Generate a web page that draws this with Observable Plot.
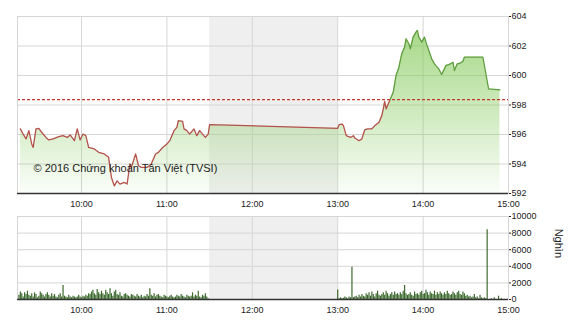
<!DOCTYPE html>
<html>
<head>
<meta charset="utf-8">
<script src="https://cdn.jsdelivr.net/npm/d3@7"></script>
<script src="https://cdn.jsdelivr.net/npm/@observablehq/plot@0.6"></script>
<style>
  html, body { margin: 0; padding: 0; background: #fff; }
  svg { display: block; }
  #chart { width: 570px; height: 320px; }
</style>
</head>
<body>
<div id="chart"></div>
<script>
// ---------- data ----------
const xDomainTimes = ["9:15", "15:00"];
const xTickTimes = ["10:00", "11:00", "12:00", "13:00", "14:00", "15:00"];
const breakTimes = ["11:30", "13:00"];
const priceTicks = [592, 594, 596, 598, 600, 602, 604];
const volumeTicks = [0, 2000, 4000, 6000, 8000, 10000];
const referencePrice = 598.37;
const copyrightText = "© 2016 Chứng khoán Tân Việt (TVSI)";
const volumeUnit = "Nghìn";

const priceTimes = [
  "9:17","9:19","9:21","9:23","9:25","9:26","9:28","9:30","9:32","9:35",
  "9:37","9:40","9:44","9:47","9:50","9:52","9:55","9:57","9:59","10:01",
  "10:03","10:05","10:09","10:12","10:16","10:19","10:21","10:23","10:25","10:27",
  "10:30","10:32","10:34","10:35","10:38","10:40","10:42","10:46","10:49","10:52",
  "10:54","10:57","11:00","11:02","11:05","11:07","11:08","11:11","11:12","11:14",
  "11:16","11:19","11:21","11:23","11:25","11:27","11:29","11:30",
  "13:00","13:01","13:03","13:04","13:06","13:09","13:11","13:12","13:15","13:17",
  "13:18","13:19","13:21","13:24","13:26","13:29","13:31","13:32","13:33","13:34",
  "13:35","13:37","13:39","13:40","13:41","13:43","13:45","13:47","13:48","13:50",
  "13:51","13:53","13:55","13:56","13:57","13:59","14:01","14:02","14:04","14:06",
  "14:08","14:09","14:11","14:13","14:15","14:16","14:18","14:20","14:21","14:22",
  "14:24","14:26","14:28","14:29","14:32","14:42","14:46","14:54"
];
const priceValues = [
  596.38,596.03,595.70,596.26,595.36,595.12,596.38,596.42,596.15,595.80,
  595.63,595.70,595.85,595.92,595.80,595.97,595.58,596.38,595.63,596.03,
  595.92,595.12,595.02,594.79,594.68,594.45,593.09,592.52,592.86,592.64,
  592.75,592.64,594.00,593.77,594.68,593.88,593.77,593.77,594.00,594.68,
  594.79,595.12,595.36,595.58,596.26,596.48,596.94,596.89,596.38,596.26,
  596.03,596.38,595.92,596.26,596.03,595.80,596.03,596.67,
  596.42,596.67,596.71,596.60,595.92,595.80,595.92,595.76,595.58,595.70,
  596.03,596.31,596.38,596.38,596.60,596.83,597.28,597.73,598.25,597.73,
  597.96,598.41,598.86,599.43,600.00,600.56,601.47,601.92,602.49,602.15,
  601.81,602.60,602.94,603.05,602.60,602.26,602.60,602.26,601.69,601.13,
  600.79,600.67,600.45,600.07,600.45,600.67,600.74,600.83,600.90,600.34,
  600.79,600.83,600.97,601.24,601.24,601.24,599.09,599.02
];

// volume per minute (thousand shares)
const volMorningStart = "9:16";
const volMorning = [
  500,900,700,300,800,600,1000,500,400,700,
  300,800,600,200,400,900,700,500,300,600,
  800,500,300,700,400,600,300,200,500,700,
  300,1700,400,300,200,500,300,200,400,300,
  200,300,500,300,200,400,300,500,400,700,
  600,900,1100,700,500,1200,800,600,1000,700,
  500,1100,800,600,1300,700,400,900,1100,600,
  500,800,400,300,600,700,500,400,300,600,
  500,400,300,600,400,300,500,200,400,300,
  600,400,1300,500,400,700,300,500,600,400,
  300,200,500,400,300,200,400,500,300,200,
  300,500,400,300,600,400,300,200,500,400,
  300,400,800,300,500,400,1000,300,200,500,
  400,700,300,100
];
const volAfternoonStart = "13:00";
const volAfternoon = [
  1150,100,200,100,150,300,200,100,300,200,
  3900,200,300,400,200,500,300,600,400,300,
  700,500,800,400,900,600,300,700,1000,500,
  400,600,800,500,1000,700,400,600,800,500,
  900,600,700,500,800,600,1000,1700,700,500,
  600,800,500,400,900,600,700,500,800,1000,
  600,700,1100,800,500,900,700,600,1000,500,
  800,600,900,700,500,800,600,1000,700,500,
  600,900,700,500,800,1000,600,500,900,700,
  400,500,300,400,200,300,600,200,300,100,
  500,200,100,200,100,8400,0,0,100,0,
  200,0,0,400,0,100,0,0,0
];

// ---------- helpers ----------
const toMin = s => { const [h, m] = s.split(":").map(Number); return h * 60 + m; };
const fmt = m => `${Math.floor(m / 60)}:${String(m % 60).padStart(2, "0")}`;

const priceData = priceTimes.map((t, i) => ({t: toMin(t), p: priceValues[i]}));
const volData = [
  ...volMorning.map((v, i) => ({t: toMin(volMorningStart) + i, v})),
  ...volAfternoon.map((v, i) => ({t: toMin(volAfternoonStart) + i, v}))
];
const xDomain = xDomainTimes.map(toMin);
const xTicks = xTickTimes.map(toMin);
const breakSpan = [{x1: toMin(breakTimes[0]), x2: toMin(breakTimes[1])}];

const FONT = "'Liberation Sans', Arial, sans-serif";
const GRID = "#d6d6d6";
const SHADE = "#efefef";
const AXIS_DARK = "#333";

// ---------- price chart ----------
const priceChart = Plot.plot({
  width: 570, height: 210,
  marginLeft: 17, marginRight: 62, marginTop: 16, marginBottom: 17,
  style: {fontFamily: FONT, fontSize: "9px", color: "#222", background: "transparent"},
  x: {domain: xDomain, ticks: xTicks, tickFormat: fmt, tickSize: 0, tickPadding: 7, label: null},
  y: {domain: [priceTicks[0], priceTicks[priceTicks.length - 1]], ticks: priceTicks, axis: "right",
      tickSize: 2, tickPadding: 1, label: null},
  marks: [
    Plot.rect(breakSpan, {x1: "x1", x2: "x2", fill: SHADE}),
    Plot.ruleY(priceTicks, {stroke: GRID}),
    Plot.ruleX(xTicks, {stroke: GRID}),
    Plot.areaY(priceData, {x: "t", y1: priceTicks[0], y2: "p", fill: "#8ccd64"}),
    Plot.line(priceData, {x: "t", y: "p", stroke: "#b5514c", strokeWidth: 1.3}),
    Plot.ruleY([referencePrice], {stroke: "#c0392b", strokeWidth: 1.3, strokeDasharray: "3,2"}),
    Plot.frame({stroke: GRID}),
    Plot.ruleY([priceTicks[0]], {stroke: AXIS_DARK, strokeWidth: 1.6}),
    Plot.text([copyrightText], {frameAnchor: "bottom-left", dx: 16, dy: -22, textAnchor: "start",
      fontSize: 11, fill: "#222", fontFamily: FONT})
  ]
});

// gradients for the price chart (positions from the scale)
{
  const ys = priceChart.scale("y");
  const yTopPx = ys.apply(priceTicks[priceTicks.length - 1]);
  const yBotPx = ys.apply(priceTicks[0]);
  const yRefPx = ys.apply(referencePrice);
  const f = (yRefPx - yTopPx) / (yBotPx - yTopPx);
  const svg = d3.select(priceChart.tagName === "svg" ? priceChart : priceChart.querySelector("svg"));
  const defs = svg.insert("defs", ":first-child");
  const ag = defs.append("linearGradient").attr("id", "areaGrad")
    .attr("gradientUnits", "userSpaceOnUse").attr("x1", 0).attr("x2", 0)
    .attr("y1", yTopPx).attr("y2", yBotPx);
  ag.append("stop").attr("offset", 0).attr("stop-color", "#8ccd64").attr("stop-opacity", 0.82);
  ag.append("stop").attr("offset", 0.5).attr("stop-color", "#8ccd64").attr("stop-opacity", 0.45);
  ag.append("stop").attr("offset", 1).attr("stop-color", "#8ccd64").attr("stop-opacity", 0.04);
  const lg = defs.append("linearGradient").attr("id", "lineGrad")
    .attr("gradientUnits", "userSpaceOnUse").attr("x1", 0).attr("x2", 0)
    .attr("y1", yTopPx).attr("y2", yBotPx);
  lg.append("stop").attr("offset", 0).attr("stop-color", "#5f9e3f");
  lg.append("stop").attr("offset", f).attr("stop-color", "#5f9e3f");
  lg.append("stop").attr("offset", f).attr("stop-color", "#b5514c");
  lg.append("stop").attr("offset", 1).attr("stop-color", "#b5514c");
  svg.selectAll('g[aria-label="area"] path').attr("fill", "url(#areaGrad)");
  svg.selectAll('g[aria-label="area"]').attr("fill", "url(#areaGrad)");
  svg.selectAll('g[aria-label="line"] path').attr("stroke", "url(#lineGrad)");
  svg.selectAll('g[aria-label="line"]').attr("stroke", "url(#lineGrad)");
}

// ---------- volume chart ----------
const volumeChart = Plot.plot({
  width: 570, height: 110,
  marginLeft: 17, marginRight: 62, marginTop: 6, marginBottom: 21,
  style: {fontFamily: FONT, fontSize: "9px", color: "#222", background: "transparent"},
  x: {domain: xDomain, ticks: xTicks, tickFormat: fmt, tickSize: 0, tickPadding: 7, label: null},
  y: {domain: [volumeTicks[0], volumeTicks[volumeTicks.length - 1]], ticks: volumeTicks, axis: "right",
      tickSize: 2, tickPadding: 1, tickFormat: d => String(d), label: null},
  marks: [
    Plot.rect(breakSpan, {x1: "x1", x2: "x2", fill: SHADE}),
    Plot.ruleY(volumeTicks, {stroke: GRID}),
    Plot.ruleX(xTicks, {stroke: GRID}),
    Plot.frame({stroke: GRID}),
    Plot.ruleX(volData, {x: "t", y1: 0, y2: "v", stroke: "#3c6a2e", strokeWidth: 1.2}),
    Plot.ruleY([0], {stroke: AXIS_DARK, strokeWidth: 1.6}),
    Plot.text([volumeUnit], {frameAnchor: "right", dx: 50, rotate: 90, fontSize: 11,
      fill: "#222", fontFamily: FONT})
  ]
});

const host = document.getElementById("chart");
host.appendChild(priceChart);
host.appendChild(volumeChart);
</script>
</body>
</html>
